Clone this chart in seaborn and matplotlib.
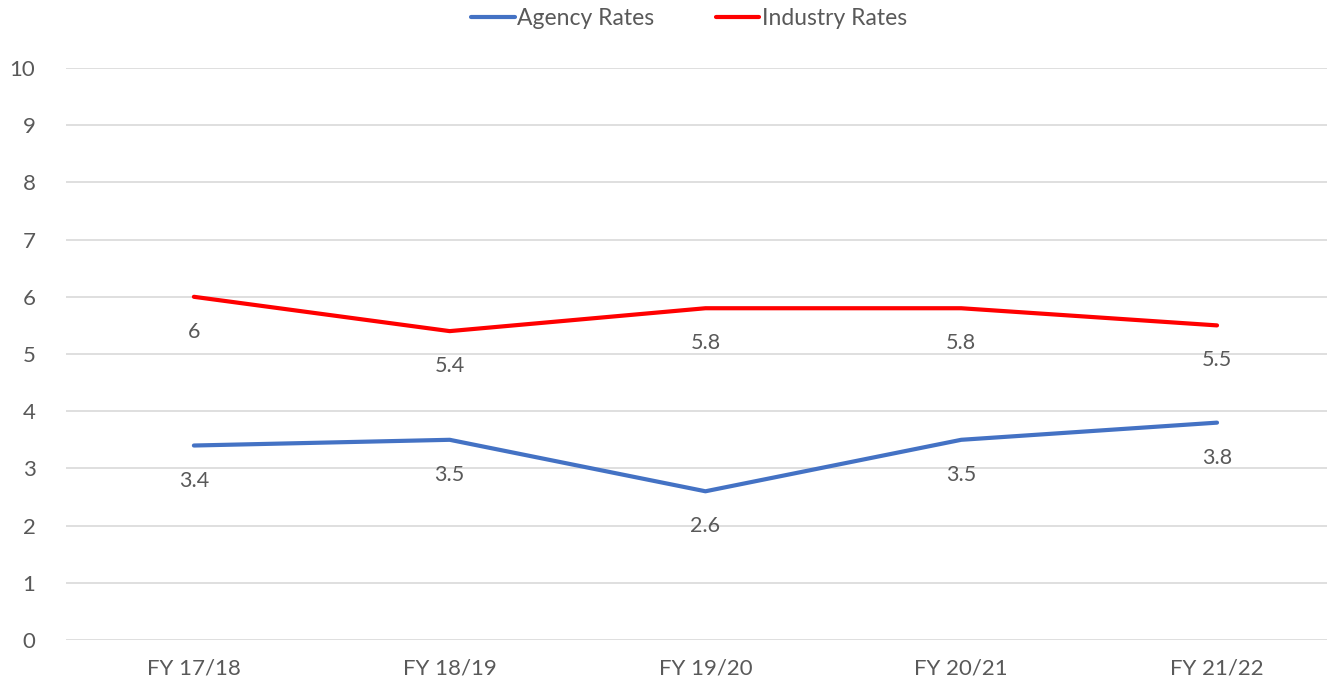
import pandas as pd
import matplotlib.pyplot as plt
import seaborn as sns

years = ["FY 17/18", "FY 18/19", "FY 19/20", "FY 20/21", "FY 21/22"]
agency = [3.4, 3.5, 2.6, 3.5, 3.8]
industry = [6, 5.4, 5.8, 5.8, 5.5]

df = pd.DataFrame({
    "year": years * 2,
    "rate": agency + industry,
    "series": ["Agency Rates"] * 5 + ["Industry Rates"] * 5,
})

sns.set_theme(style="white")
plt.rcParams["font.family"] = ["Lato", "DejaVu Sans"]
grey = "#595959"

fig = plt.figure(figsize=(13.27, 6.9), dpi=100)
ax = fig.add_axes([66 / 1327, 50 / 690, 1 - 66 / 1327, 572 / 690])

sns.lineplot(data=df, x="year", y="rate", hue="series", sort=False,
             palette={"Agency Rates": "#4472C4", "Industry Rates": "#FF0000"},
             linewidth=3, ax=ax)

# data labels below each point
for vals in (agency, industry):
    for i, v in enumerate(vals):
        ax.annotate(f"{v:g}", (i, v), xytext=(0, -18), textcoords="offset points",
                    ha="center", va="top", fontsize=15.5, color=grey)

ax.set_ylim(0, 10)
ax.set_xlim(-0.5, 4.43)
ax.set_yticks(range(0, 11))
ax.yaxis.grid(True, color="#D9D9D9", linewidth=1.2)
ax.xaxis.grid(False)
for s in ax.spines.values():
    s.set_visible(False)
ax.tick_params(axis="both", length=0, labelsize=16, colors=grey)
ax.tick_params(axis="y", pad=22)
ax.tick_params(axis="x", pad=13)
ax.set_xlabel("")
ax.set_ylabel("")

leg = ax.legend(loc="center", bbox_to_anchor=(0.494, 1.087), ncol=2,
                frameon=False, fontsize=16.5, handlelength=1.9, handletextpad=0.1,
                columnspacing=2.7)
for t in leg.get_texts():
    t.set_color(grey)

fig.savefig("out.png", dpi=100)
